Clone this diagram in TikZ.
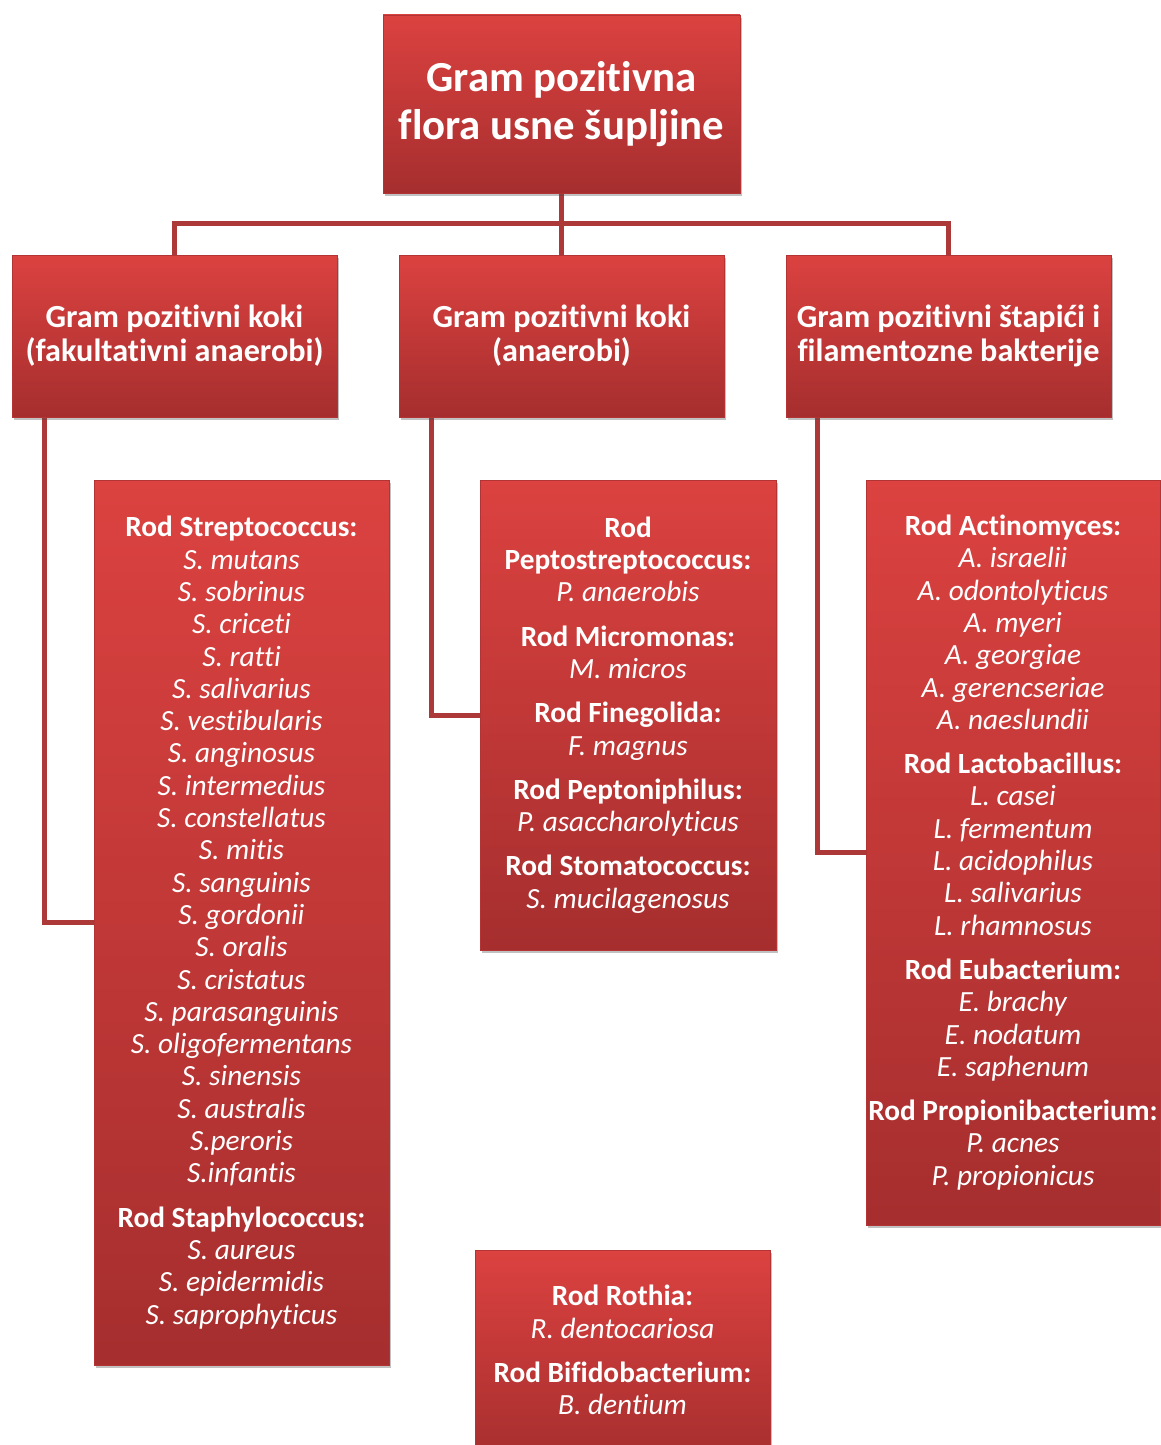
\documentclass[tikz,border=0pt]{standalone}
\usepackage{fontspec}
\setmainfont{Carlito}[Ligatures=NoCommon]
\usetikzlibrary{shadows,backgrounds,positioning}
\definecolor{rtop}{RGB}{219,66,64}
\definecolor{rbot}{RGB}{166,46,46}
\definecolor{redge}{RGB}{178,52,52}
\definecolor{conncol}{RGB}{172,56,56}
\tikzset{
  x=1pt,y=-1pt,
  box/.style={rectangle, top color=rtop, bottom color=rbot, draw=redge, line width=0.8pt,
    text=white, align=center, inner sep=0pt,
    drop shadow={opacity=0.35, shadow xshift=2pt, shadow yshift=-3pt, fill=black!70}},
  conn/.style={draw=conncol, line width=5pt},
  hdr/.style={font=\bfseries\fontsize{32.2}{34}\selectfont},
  ttl/.style={font=\bfseries\fontsize{42.8}{48}\selectfont},
  lst/.style={font=\fontsize{29.3}{32.3}\selectfont},
  plaintext/.style={text=white, align=center, inner sep=0pt},
}
\newcommand{\gnm}[1]{\textbf{#1}}
\newcommand{\spc}[1]{\textit{#1}}
\begin{document}
\begin{tikzpicture}
\useasboundingbox (0,0) rectangle (1160,1445);
% top
\node[box, ttl, minimum width=357pt, minimum height=178pt] (top) at (561.5,104) {Gram pozitivna\\flora usne šupljine};
% level 2
\node[box, hdr, minimum width=325pt, minimum height=162pt] (l1) at (174.5,336) {Gram pozitivni koki\\(fakultativni anaerobi)};
\node[box, hdr, minimum width=325pt, minimum height=162pt] (l2) at (561.5,336) {Gram pozitivni koki\\(anaerobi)};
\node[box, hdr, minimum width=325pt, minimum height=162pt] (l3) at (948.5,336) {Gram pozitivni štapići i\\filamentozne bakterije};
% detail boxes
\node[box, lst, minimum width=295pt, minimum height=885pt] (d1) at (241.5,922.5) {%
\gnm{Rod Streptococcus:}\\ \spc{S. mutans}\\ \spc{S. sobrinus}\\ \spc{S. criceti}\\ \spc{S. ratti}\\ \spc{S. salivarius}\\ \spc{S. vestibularis}\\ \spc{S. anginosus}\\ \spc{S. intermedius}\\ \spc{S. constellatus}\\ \spc{S. mitis}\\ \spc{S. sanguinis}\\ \spc{S. gordonii}\\ \spc{S. oralis}\\ \spc{S. cristatus}\\ \spc{S. parasanguinis}\\ \spc{S. oligofermentans}\\ \spc{S. sinensis}\\ \spc{S. australis}\\ \spc{S.peroris}\\ \spc{S.infantis}\\[12pt]
\gnm{Rod Staphylococcus:}\\ \spc{S. aureus}\\ \spc{S. epidermidis}\\ \spc{S. saprophyticus}};
\node[box, lst, minimum width=296pt, minimum height=470pt] (d2) at (628,715) {%
\gnm{Rod}\\ \gnm{Peptostreptococcus:}\\ \spc{P. anaerobis}\\[12pt]
\gnm{Rod Micromonas:}\\ \spc{M. micros}\\[12pt]
\gnm{Rod Finegolida:}\\ \spc{F. magnus}\\[12pt]
\gnm{Rod Peptoniphilus:}\\ \spc{P. asaccharolyticus}\\[12pt]
\gnm{Rod Stomatococcus:}\\ \spc{S. mucilagenosus}};
\node[box, lst, minimum width=294pt, minimum height=745pt] (d3) at (1013,852.5) {%
\gnm{Rod Actinomyces:}\\ \spc{A. israelii}\\ \spc{A. odontolyticus}\\ \spc{A. myeri}\\ \spc{A. georgiae}\\ \spc{A. gerencseriae}\\ \spc{A. naeslundii}\\[12pt]
\gnm{Rod Lactobacillus:}\\ \spc{L. casei}\\ \spc{L. fermentum}\\ \spc{L. acidophilus}\\ \spc{L. salivarius}\\ \spc{L. rhamnosus}\\[12pt]
\gnm{Rod Eubacterium:}\\ \spc{E. brachy}\\ \spc{E. nodatum}\\ \spc{E. saphenum}\\[12pt]
\gnm{Rod Propionibacterium:}\\ \spc{P. acnes}\\ \spc{P. propionicus}};
\node[box, minimum width=295pt, minimum height=212pt, anchor=north] (d4) at (622.5,1250) {};
\node[plaintext, lst] (d4t) at (622.5,1350) {%
\gnm{Rod Rothia:}\\ \spc{R. dentocariosa}\\[12pt]
\gnm{Rod Bifidobacterium:}\\ \spc{B. dentium}};
% connectors
\begin{pgfonlayer}{background}
\draw[conn] (top.south) -- ++(0,30) coordinate (bar) -| (l1.north);
\draw[conn] (bar) -| (l3.north);
\draw[conn] (bar) -- (l2.north);
\draw[conn] ([xshift=33pt]l1.south west) |- (d1.west);
\draw[conn] ([xshift=33pt]l2.south west) |- (d2.west);
\draw[conn] ([xshift=32pt]l3.south west) |- (d3.west);
\end{pgfonlayer}
\end{tikzpicture}
\end{document}
